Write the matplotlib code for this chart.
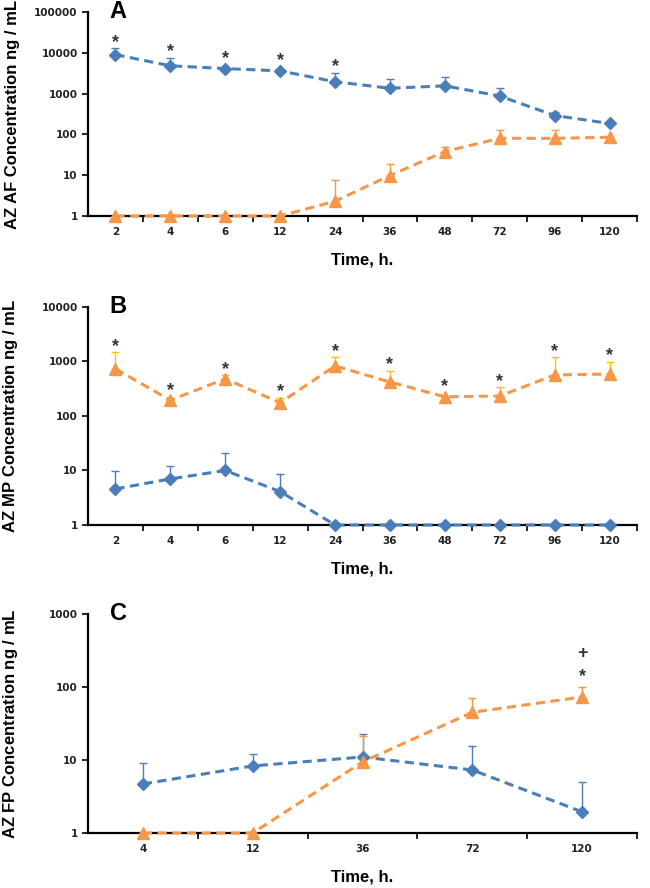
import numpy as np
import matplotlib.pyplot as plt
from matplotlib.ticker import FixedLocator, NullFormatter, FixedFormatter

plt.rcParams['mathtext.fontset'] = 'custom'
plt.rcParams['mathtext.rm'] = 'Liberation Sans'

# panels A and B share the time points
times_ab = ['2', '4', '6', '12', '24', '36', '48', '72', '96', '120']
times_c = ['4', '12', '36', '72', '120']

# A: AF
af_blue = [9000, 4800, 4100, 3600, 1950, 1350, 1550, 870, 290, 185]
af_blue_top = [13000, 7500, 4100, 3600, 3200, 2300, 2500, 1350, 360, 205]
af_orange = [1, 1, 1, 1, 2.3, 9.8, 38, 80, 80, 85]
af_orange_top = [1, 1, 1, 1, 7.5, 19, 50, 128, 128, 85]
af_stars = [0, 1, 2, 3, 4]

# B: MP
mp_orange = [730, 195, 480, 175, 830, 420, 225, 233, 565, 590]
mp_orange_top = [1480, 195, 560, 215, 1200, 670, 225, 340, 1200, 980]
mp_blue = [4.6, 7, 10, 4.1, 1, 1, 1, 1, 1, 1]
mp_blue_top = [9.8, 12, 21, 8.6, 1, 1, 1, 1, 1, 1]
mp_stars = [0, 1, 2, 3, 4, 5, 6, 7, 8, 9]

# C: FP
fp_blue = [4.7, 8.3, 11, 7.3, 1.95]
fp_blue_top = [9.1, 12, 23, 15.5, 5]
fp_orange = [1, 1, 9.4, 45, 73]
fp_orange_top = [1, 1, 21, 71, 100]

BLUE = '#4A7EBB'
ORANGE = '#F79646'
GOLD = '#FFC000'

fig = plt.figure(figsize=(6.5, 8.88), dpi=100)
axA = fig.add_axes([0.1354, 0.7568, 0.8446, 0.2297])
axB = fig.add_axes([0.1354, 0.4088, 0.8446, 0.2455])
axC = fig.add_axes([0.1354, 0.0619, 0.8446, 0.2467])


def series(ax, vals, tops, color, ecolor, marker, ms):
    x = np.arange(len(vals)) + 0.5
    vals = np.array(vals, float)
    up = np.array(tops, float) - vals
    ax.errorbar(x, vals, yerr=[np.zeros_like(up), up], fmt='none',
                ecolor=ecolor, elinewidth=1.0, capsize=3, capthick=1.0, zorder=3)
    ax.plot(x, vals, linestyle=(0, (3, 1.8)), lw=2.2, color=color,
            marker=marker, ms=ms, mec=color, mfc=color, zorder=4, clip_on=False)


def stars(ax, idx, vals, tops, sym='*', extra=0):
    for i in idx:
        y = max(vals[i], tops[i])
        off = 1 if tops[i] > vals[i] else 4
        ax.annotate(sym, (i + 0.5, y), xytext=(0, off + extra), textcoords='offset points',
                    ha='center', va='baseline', fontsize=13, fontweight='bold',
                    color='#333333', family='Liberation Sans')


def style(ax, labels, ymax, letter, ylabel):
    n = len(labels)
    ax.set_yscale('log')
    ax.set_ylim(1, ymax)
    ax.set_xlim(0, n)
    for s in ['top', 'right']:
        ax.spines[s].set_visible(False)
    ax.spines['left'].set_linewidth(1.6)
    ax.spines['bottom'].set_linewidth(1.6)
    ax.xaxis.set_major_locator(FixedLocator(np.arange(1, n + 1)))
    ax.xaxis.set_major_formatter(NullFormatter())
    ax.xaxis.set_minor_locator(FixedLocator(np.arange(n) + 0.5))
    ax.xaxis.set_minor_formatter(FixedFormatter(labels))
    ax.tick_params(axis='x', which='major', direction='out', length=4, width=1.2)
    ax.tick_params(axis='x', which='minor', length=0, pad=8, labelsize=7.5)
    dec = [10 ** k for k in range(int(np.log10(ymax)) + 1)]
    ax.yaxis.set_major_locator(FixedLocator(dec))
    ax.yaxis.set_major_formatter(FixedFormatter([str(d) for d in dec]))
    ax.yaxis.set_minor_locator(FixedLocator([]))
    ax.tick_params(axis='y', direction='out', length=4, width=1.2, labelsize=7.5)
    for t in ax.get_xticklabels(minor=True) + ax.get_yticklabels():
        t.set_fontweight('bold')
        t.set_color('#222222')
    ax.set_xlabel('Time, h.', fontsize=12, fontweight='bold', family='Liberation Sans', labelpad=11)
    ax.set_ylabel(ylabel, fontsize=12, fontweight='bold', family='Liberation Sans')
    ax.yaxis.set_label_coords(-0.124, 0.5)
    ax.text(0.055, 1.0, letter, transform=ax.transAxes, fontsize=17, fontweight='bold',
            family='Liberation Sans', ha='center', va='center')


series(axA, af_blue, af_blue_top, BLUE, BLUE, 'D', 6.5)
series(axA, af_orange, af_orange_top, ORANGE, ORANGE, '^', 8)
stars(axA, af_stars, af_blue, af_blue_top)
style(axA, times_ab, 100000, 'A', 'AZ AF Concentration ng / mL')

series(axB, mp_blue, mp_blue_top, BLUE, BLUE, 'D', 6.5)
series(axB, mp_orange, mp_orange_top, ORANGE, GOLD, '^', 8)
stars(axB, mp_stars, mp_orange, mp_orange_top)
style(axB, times_ab, 10000, 'B', r'AZ $\mathregular{MP}$ Concentration ng / mL')

series(axC, fp_blue, fp_blue_top, BLUE, BLUE, 'D', 6.5)
series(axC, fp_orange, fp_orange_top, ORANGE, ORANGE, '^', 8)
stars(axC, [4], fp_orange, fp_orange_top, extra=3)
axC.annotate('+', (4.5, fp_orange_top[4]), xytext=(0, 21), textcoords='offset points',
             ha='center', va='baseline', fontsize=13, fontweight='bold', color='#333333',
             family='Liberation Sans')
style(axC, times_c, 1000, 'C', r'AZ $\mathregular{FP}$ Concentration ng / mL')

fig.savefig('out.png', dpi=100)
